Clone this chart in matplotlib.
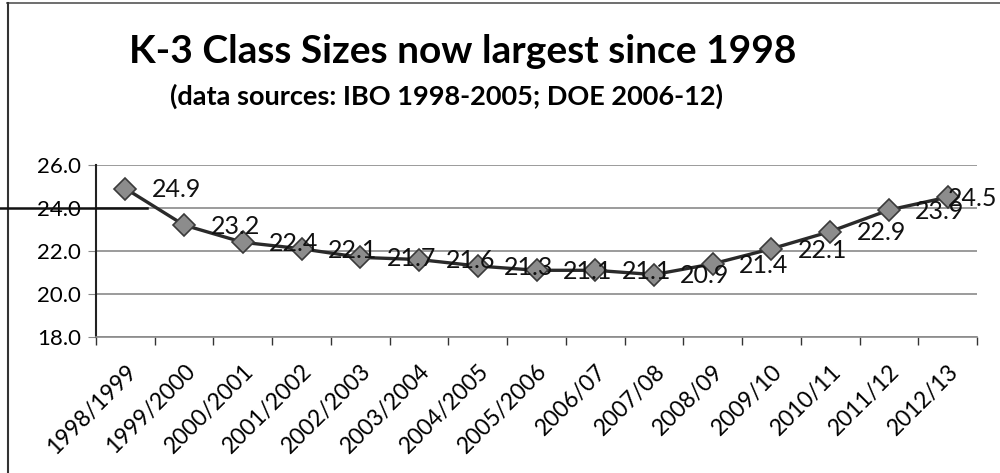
import matplotlib.pyplot as plt
import matplotlib.transforms as mtransforms
from matplotlib.lines import Line2D

# school years and K-3 average class size
years = ['1998/1999', '1999/2000', '2000/2001', '2001/2002', '2002/2003',
         '2003/2004', '2004/2005', '2005/2006', '2006/07', '2007/08',
         '2008/09', '2009/10', '2010/11', '2011/12', '2012/13']
sizes = [24.9, 23.2, 22.4, 22.1, 21.7, 21.6, 21.3, 21.1, 21.1, 20.9,
         21.4, 22.1, 22.9, 23.9, 24.5]
yticks = [18, 20, 22, 24, 26]

plt.rcParams['font.family'] = ['Lato', 'DejaVu Sans']

fig = plt.figure(figsize=(10, 4.73), dpi=100)
ax = fig.add_axes([0.096, 0.2875, 0.881, 0.364])

x = list(range(len(years)))
ax.plot(x, sizes, color='#2a2a2a', lw=2.4, marker='D', ms=11,
        mfc='#8c8c8c', mec='#3a3a3a', mew=1.2, zorder=3)

# data labels to the right of each point (last one pulled in to fit, like Excel)
for xi, v in zip(x, sizes):
    dx = 19 if xi < len(years) - 1 else 0
    ax.annotate(f'{v:.1f}', (xi, v), xytext=(dx, -1), textcoords='offset points',
                ha='left', va='center', fontsize=18, color='#111111', zorder=4)

ax.set_xlim(-0.5, len(years) - 0.5)
ax.set_ylim(18, 26)
ax.set_yticks(yticks, [f'{t:.1f}' for t in yticks])
ax.set_xticks(x, years, rotation=45, ha='right', rotation_mode='anchor')
ax.set_xticks([i - 0.5 for i in range(len(years) + 1)], minor=True)

ax.tick_params(axis='x', which='major', length=0, pad=17, labelsize=16.5)
ax.tick_params(axis='x', which='minor', length=6, color='#333333', width=1)
ax.tick_params(axis='y', length=6, color='#8a8a8a', pad=5, labelsize=16)

ax.yaxis.grid(True, color='#8a8a8a', lw=1.2)
ax.set_axisbelow(True)
for s in ['top', 'right']:
    ax.spines[s].set_visible(False)
ax.spines['left'].set_color('#222222')
ax.spines['left'].set_linewidth(1.5)
ax.spines['bottom'].set_color('#8a8a8a')
ax.spines['bottom'].set_linewidth(1.2)

fig.text(0.463, 1 - 63 / 473, 'K-3 Class Sizes now largest since 1998',
         ha='center', va='baseline', fontsize=28, fontweight='bold')
fig.text(0.446, 1 - 105 / 473, '(data sources: IBO 1998-2005; DOE 2006-12)',
         ha='center', va='baseline', fontsize=19.5, fontweight='bold')

# chart border (top and left edges visible in the scan)
fig.add_artist(Line2D([0.007, 1.0], [1 - 3 / 473, 1 - 3 / 473], color='#555555', lw=1.2))
fig.add_artist(Line2D([0.008, 0.008], [0, 1 - 3 / 473], color='#333333', lw=1.5))

# stray black rule at the 24.0 level on the left
blend = mtransforms.blended_transform_factory(fig.transFigure, ax.transData)
fig.add_artist(Line2D([0.0, 0.147], [24, 24], color='#111111', lw=1.8, transform=blend))

fig.savefig('out.png', dpi=100)
